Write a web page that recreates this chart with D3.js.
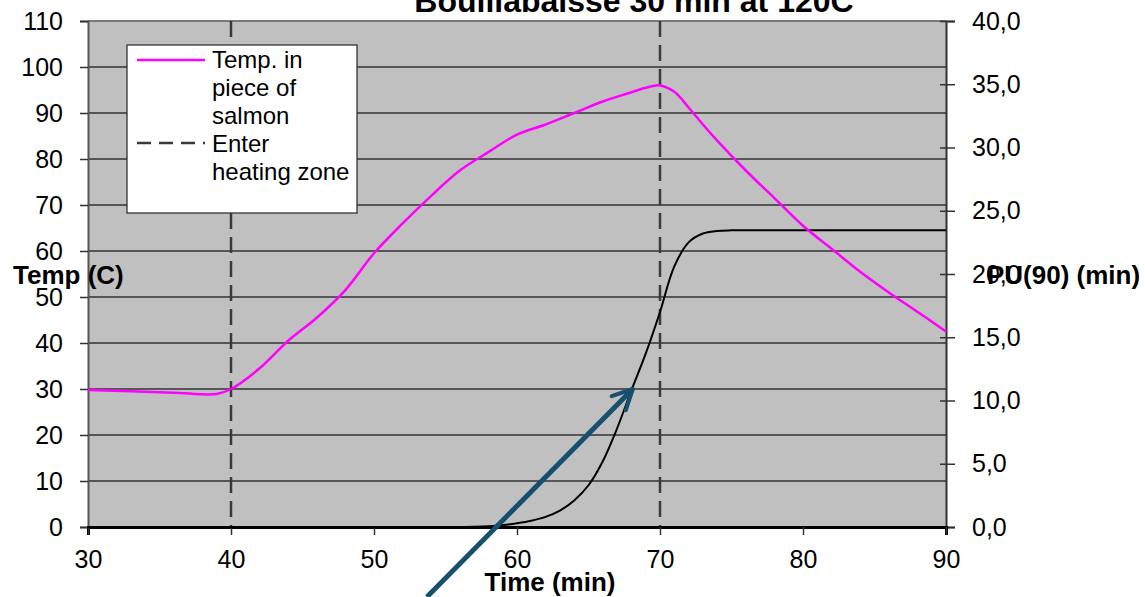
<!DOCTYPE html>
<html>
<head>
<meta charset="utf-8">
<script src="https://cdn.jsdelivr.net/npm/d3@7"></script>
<style>
  body { margin: 0; background: #fff; }
  svg { font-family: "Liberation Sans", Arial, sans-serif; }
</style>
</head>
<body>
<script>
// data ----------------------------------------------
var tempTime = [30, 33, 36, 39, 40, 42, 44, 46, 48, 50, 52, 54, 56, 58, 60, 62, 64, 66, 68, 69, 70,
                71, 72, 73, 74, 76, 78, 80, 82, 84, 86, 88, 90];
var tempValues = [29.8, 29.5, 29.2, 28.9, 30, 34.5, 40.5, 45.5, 51.5, 59.5, 66, 72, 77.5, 81.5, 85.3,
                  87.5, 90, 92.5, 94.5, 95.5, 96, 94.6, 91.2, 87.5, 84, 77.5, 71.5, 65.5, 60.5, 55.5, 51, 46.8, 42.5];

var puTime = [30, 40, 50, 55, 57, 58, 59, 60, 61, 62, 63, 64, 65, 66, 67, 68, 69, 70, 71, 72, 73, 74, 75, 80, 90];
var puValues = [0, 0, 0, 0, 0.02, 0.06, 0.15, 0.3, 0.5, 0.8, 1.3, 2.1, 3.3, 5.2, 7.8, 10.8, 13.7, 17, 20.6, 22.5,
                23.2, 23.4, 23.45, 23.45, 23.45];

var heatingZone = [40, 70];
var xTicks = [30, 40, 50, 60, 70, 80, 90];
var leftTicks = [0, 10, 20, 30, 40, 50, 60, 70, 80, 90, 100, 110];
var rightTicks = [0, 5, 10, 15, 20, 25, 30, 35, 40];
// arrow annotation in data units (time, temp)
var arrowFrom = [53.7, -15.2];
var arrowTo = [68.1, 30];

var title = 'Bouillabaisse 30 min at 120C';

// scales ---------------------------------------------
var x = d3.scaleLinear().domain([30, 90]).range([88, 946]);
var yL = d3.scaleLinear().domain([0, 110]).range([527, 21]);
var yR = d3.scaleLinear().domain([0, 40]).range([527, 21]);

var svg = d3.select('body').append('svg')
  .attr('width', 1145)
  .attr('height', 597);

// plot background
svg.append('rect')
  .attr('x', x(30)).attr('y', yL(110))
  .attr('width', x(90) - x(30)).attr('height', yL(0) - yL(110))
  .attr('fill', '#c0c0c0');

// gridlines
svg.append('g').selectAll('line')
  .data(leftTicks.filter(function(d) { return d > 0 && d < 110; }))
  .enter().append('line')
  .attr('x1', x(30)).attr('x2', x(90))
  .attr('y1', function(d) { return yL(d); })
  .attr('y2', function(d) { return yL(d); })
  .attr('stroke', '#333')
  .attr('stroke-width', 1.3);

// top border
svg.append('line')
  .attr('x1', x(30)).attr('x2', x(90))
  .attr('y1', yL(110)).attr('y2', yL(110))
  .attr('stroke', '#7a7a7a').attr('stroke-width', 2);

// dashed heating zone lines
svg.append('g').selectAll('line')
  .data(heatingZone)
  .enter().append('line')
  .attr('x1', function(d) { return x(d); })
  .attr('x2', function(d) { return x(d); })
  .attr('y1', yL(110)).attr('y2', yL(0))
  .attr('stroke', '#3a3a3a')
  .attr('stroke-width', 2.5)
  .attr('stroke-dasharray', '16,8');

// axes ------------------------------------------------
var leftAxis = svg.append('g')
  .attr('transform', 'translate(' + x(30) + ',0)')
  .call(d3.axisLeft(yL).tickValues(leftTicks).tickSize(8).tickPadding(17));

var rightAxis = svg.append('g')
  .attr('transform', 'translate(' + x(90) + ',0)')
  .call(d3.axisRight(yR).tickValues(rightTicks).tickSize(9).tickPadding(17)
    .tickFormat(function(d) { return d.toFixed(1).replace('.', ','); }));
rightAxis.selectAll('.tick line').attr('x1', -6);

var bottomAxis = svg.append('g')
  .attr('transform', 'translate(0,' + yL(0) + ')')
  .call(d3.axisBottom(x).tickValues(xTicks).tickSize(8).tickPadding(15));

[leftAxis, rightAxis, bottomAxis].forEach(function(a) {
  a.selectAll('text').attr('font-size', 25).attr('fill', '#000')
    .attr('font-family', '"Liberation Sans", Arial, sans-serif');
  a.selectAll('.tick line').attr('stroke', '#333').attr('stroke-width', 1.5);
});
leftAxis.select('.domain').attr('stroke', '#555').attr('stroke-width', 2);
rightAxis.select('.domain').attr('stroke', '#333').attr('stroke-width', 2);
bottomAxis.select('.domain').attr('stroke', '#000').attr('stroke-width', 3);

// lines ------------------------------------------------
var tempLine = d3.line()
  .x(function(d) { return x(d[0]); })
  .y(function(d) { return yL(d[1]); })
  .curve(d3.curveCatmullRom);

var puLine = d3.line()
  .x(function(d) { return x(d[0]); })
  .y(function(d) { return yR(d[1]); })
  .curve(d3.curveCatmullRom);

svg.append('path')
  .datum(d3.zip(puTime, puValues))
  .attr('d', puLine)
  .attr('fill', 'none')
  .attr('stroke', '#000')
  .attr('stroke-width', 2);

svg.append('path')
  .datum(d3.zip(tempTime, tempValues))
  .attr('d', tempLine)
  .attr('fill', 'none')
  .attr('stroke', '#ff00ff')
  .attr('stroke-width', 2.5);

// legend -----------------------------------------------
var legend = svg.append('g');
legend.append('rect')
  .attr('x', 127).attr('y', 45).attr('width', 230).attr('height', 168)
  .attr('fill', '#fff').attr('stroke', '#333').attr('stroke-width', 1.3);
legend.append('line')
  .attr('x1', 137).attr('x2', 205).attr('y1', 60).attr('y2', 60)
  .attr('stroke', '#ff00ff').attr('stroke-width', 2.5);
legend.append('line')
  .attr('x1', 137).attr('x2', 205).attr('y1', 143).attr('y2', 143)
  .attr('stroke', '#3a3a3a').attr('stroke-width', 2.5)
  .attr('stroke-dasharray', '14,8');
var legendLines = ['Temp. in', 'piece of', 'salmon', 'Enter', 'heating zone'];
legend.selectAll('text')
  .data(legendLines)
  .enter().append('text')
  .attr('x', 212)
  .attr('y', function(d, i) { return 68 + i * 28; })
  .attr('font-size', 24)
  .text(function(d) { return d; });

// arrow ------------------------------------------------
svg.append('defs').append('marker')
  .attr('id', 'head')
  .attr('viewBox', '0 0 10 10')
  .attr('refX', 9).attr('refY', 5)
  .attr('markerWidth', 5).attr('markerHeight', 5)
  .attr('markerUnits', 'strokeWidth')
  .attr('orient', 'auto')
  .append('path')
  .attr('d', 'M1,1 L9,5 L1,9')
  .attr('fill', 'none')
  .attr('stroke', '#17506e')
  .attr('stroke-width', 1.6)
  .attr('stroke-linecap', 'round')
  .attr('stroke-linejoin', 'round');

svg.append('line')
  .attr('x1', x(arrowFrom[0])).attr('y1', yL(arrowFrom[1]))
  .attr('x2', x(arrowTo[0])).attr('y2', yL(arrowTo[1]))
  .attr('stroke', '#17506e')
  .attr('stroke-width', 5)
  .attr('marker-end', 'url(#head)');

// titles -----------------------------------------------
svg.append('text')
  .attr('x', 634).attr('y', 12)
  .attr('text-anchor', 'middle')
  .attr('font-size', 32).attr('font-weight', 'bold')
  .text(title);

svg.append('text')
  .attr('x', 550).attr('y', 591)
  .attr('text-anchor', 'middle')
  .attr('font-size', 26).attr('font-weight', 'bold')
  .text('Time (min)');

svg.append('text')
  .attr('x', 13).attr('y', 284)
  .attr('font-size', 26).attr('font-weight', 'bold')
  .text('Temp (C)');

svg.append('text')
  .attr('x', 987).attr('y', 284)
  .attr('font-size', 26).attr('font-weight', 'bold')
  .text('PU(90) (min)');
</script>
</body>
</html>
